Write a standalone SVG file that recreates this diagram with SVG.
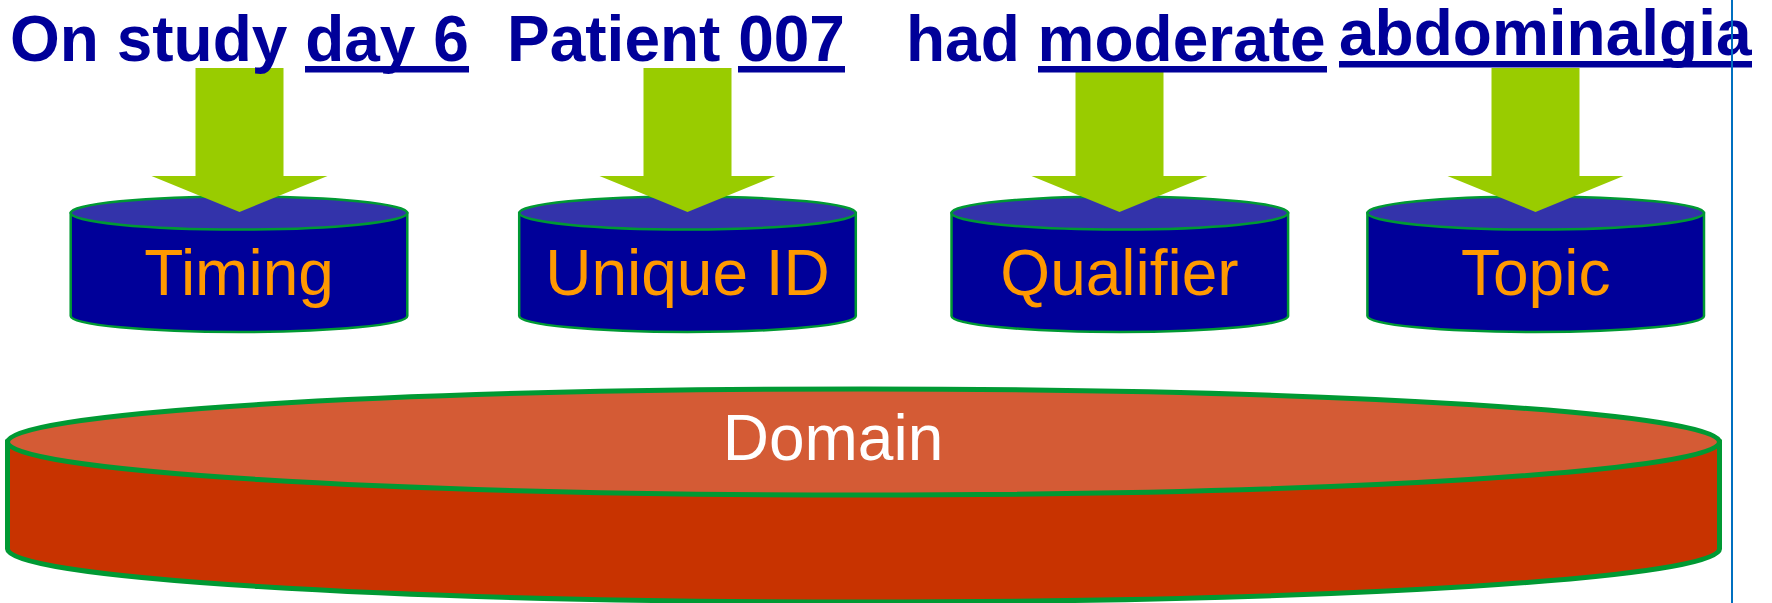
<svg xmlns="http://www.w3.org/2000/svg" xmlns:xlink="http://www.w3.org/1999/xlink" width="1772" height="603" viewBox="0 0 1772 603">
  <style>
    .title { font-family: "Liberation Sans", Arial, sans-serif; font-weight: bold; font-size: 64px; fill: #000099; }
    .uline { fill: #000099; }
    .cyl-side { fill: #000099; stroke: #009933; stroke-width: 2.5; }
    .cyl-top { fill: #3333AA; stroke: #009933; stroke-width: 2.5; }
    .cyl-label { font-family: "Liberation Sans", Arial, sans-serif; font-size: 64px; fill: #FF9900; text-anchor: middle; }
    .dom-side { fill: #C83300; stroke: #009933; stroke-width: 5; }
    .dom-top { fill: #D45B35; stroke: #009933; stroke-width: 5; }
    .dom-label { font-family: "Liberation Sans", Arial, sans-serif; font-size: 64px; fill: #FFFFFF; text-anchor: middle; }
    .arrow { fill: #99CC00; }
  </style>
  <defs>
    <polygon id="downArrow" class="arrow" points="-44,68 44,68 44,176 88,176 0,212 -88,176 -44,176"/>
  </defs>

  <rect x="0" y="0" width="1772" height="603" fill="#FFFFFF"/>

  <g id="domain">
    <path class="dom-side" d="M 7.5,442 L 7.5,549 A 856,53 0 0 0 1719.5,549 L 1719.5,442 Z"/>
    <ellipse class="dom-top" cx="863.5" cy="442" rx="856" ry="53"/>
    <text class="dom-label" x="833" y="460">Domain</text>
  </g>

  <g id="timing">
    <path class="cyl-side" d="M 70.7,213 L 70.7,316 A 168.3,16 0 0 0 407.3,316 L 407.3,213 Z"/>
    <ellipse class="cyl-top" cx="239" cy="213" rx="168.3" ry="16.5"/>
    <text class="cyl-label" x="239" y="295">Timing</text>
  </g>

  <g id="unique-id">
    <path class="cyl-side" d="M 519.2,213 L 519.2,316 A 168.3,16 0 0 0 855.8,316 L 855.8,213 Z"/>
    <ellipse class="cyl-top" cx="687.5" cy="213" rx="168.3" ry="16.5"/>
    <text class="cyl-label" x="687.5" y="295">Unique ID</text>
  </g>

  <g id="qualifier">
    <path class="cyl-side" d="M 951.5,213 L 951.5,316 A 168.3,16 0 0 0 1288.1,316 L 1288.1,213 Z"/>
    <ellipse class="cyl-top" cx="1119.8" cy="213" rx="168.3" ry="16.5"/>
    <text class="cyl-label" x="1119.5" y="295">Qualifier</text>
  </g>

  <g id="topic">
    <path class="cyl-side" d="M 1367.4,213 L 1367.4,316 A 168.3,16 0 0 0 1704,316 L 1704,213 Z"/>
    <ellipse class="cyl-top" cx="1535.7" cy="213" rx="168.3" ry="16.5"/>
    <text class="cyl-label" x="1535.7" y="295">Topic</text>
  </g>

  <g id="connectors">
    <use xlink:href="#downArrow" href="#downArrow" transform="translate(239.5,0)"/>
    <use xlink:href="#downArrow" href="#downArrow" transform="translate(687.5,0)"/>
    <use xlink:href="#downArrow" href="#downArrow" transform="translate(1119.5,0)"/>
    <use xlink:href="#downArrow" href="#downArrow" transform="translate(1535.5,0)"/>
  </g>

  <g id="sentence">
    <text class="title" x="10" y="61">On study day 6</text>
    <rect class="uline" x="305" y="66" width="164" height="6.5"/>
    <text class="title" x="507" y="61">Patient 007</text>
    <rect class="uline" x="738" y="66" width="107" height="6.5"/>
    <text class="title" x="906" y="61">had moderate</text>
    <rect class="uline" x="1038" y="66" width="289" height="6.5"/>
    <text class="title" x="1339" y="55">abdominalgia</text>
    <rect class="uline" x="1339" y="61" width="413" height="6.5"/>
  </g>

  <line id="divider" x1="1732" y1="0" x2="1732" y2="603" stroke="#0070C0" stroke-width="2"/>
</svg>
